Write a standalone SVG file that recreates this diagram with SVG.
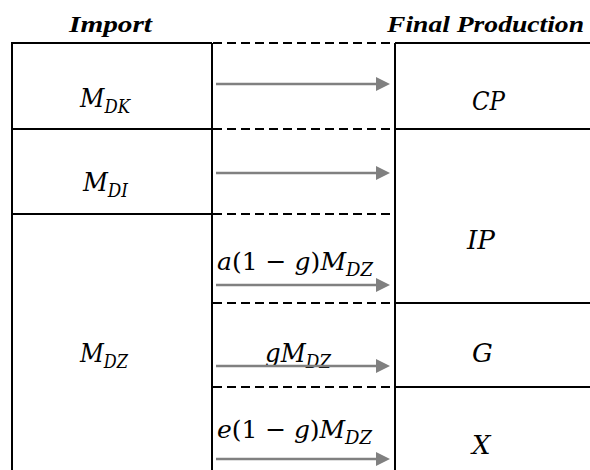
<svg xmlns="http://www.w3.org/2000/svg" width="590" height="470" viewBox="0 0 590 470">
<defs>
<marker id="ah" markerUnits="userSpaceOnUse" markerWidth="14" markerHeight="14" refX="0" refY="7" orient="auto">
<path d="M0,0 L14,7 L0,14 z" fill="#808080"/>
</marker>
<style>
.ln{stroke:#000;stroke-width:2;fill:none}
.dash{stroke:#000;stroke-width:2;stroke-dasharray:9 5;fill:none}
.arr{stroke:#808080;stroke-width:2.5;fill:none;marker-end:url(#ah)}
.hd{font-family:"Liberation Serif","DejaVu Serif",serif;font-weight:bold;font-style:italic;font-size:24px;fill:#000}
.m{font-family:"DejaVu Serif","Liberation Serif",serif;font-style:italic;font-size:26px;fill:#000}
.f{font-size:25px}
.up{font-style:normal}
.sub{font-size:18px}
</style>
</defs>
<rect width="590" height="470" fill="#fff"/>
<g id="headers">
<text class="hd" x="69" y="32" textLength="83" lengthAdjust="spacingAndGlyphs">Import</text>
<text class="hd" x="387" y="32" textLength="197" lengthAdjust="spacingAndGlyphs">Final Production</text>
</g>
<g id="frame">
<line class="ln" x1="12" y1="43" x2="12" y2="470"/>
<line class="ln" x1="212" y1="43" x2="212" y2="470"/>
<line class="ln" x1="395" y1="43" x2="395" y2="470"/>
</g>
<g id="import-MDK">
<line class="ln" x1="11" y1="43" x2="212" y2="43"/>
<line class="ln" x1="11" y1="129" x2="212" y2="129"/>
<text class="m" x="80" y="107" textLength="50" lengthAdjust="spacingAndGlyphs">M<tspan class="sub" dy="6">DK</tspan></text>
</g>
<g id="import-MDI">
<line class="ln" x1="11" y1="214" x2="212" y2="214"/>
<text class="m" x="83" y="191" textLength="45" lengthAdjust="spacingAndGlyphs">M<tspan class="sub" dy="6">DI</tspan></text>
</g>
<g id="import-MDZ">
<text class="m" x="80" y="362" textLength="48" lengthAdjust="spacingAndGlyphs">M<tspan class="sub" dy="6">DZ</tspan></text>
</g>
<g id="final-CP">
<line class="ln" x1="395" y1="43" x2="590" y2="43"/>
<line class="ln" x1="395" y1="129" x2="590" y2="129"/>
<text class="m" x="472" y="110" textLength="33" lengthAdjust="spacingAndGlyphs">CP</text>
</g>
<g id="final-IP">
<text class="m" x="467" y="249" textLength="28" lengthAdjust="spacingAndGlyphs">IP</text>
</g>
<g id="final-G">
<line class="ln" x1="395" y1="303" x2="590" y2="303"/>
<text class="m" x="472" y="362">G</text>
</g>
<g id="final-X">
<line class="ln" x1="395" y1="387" x2="590" y2="387"/>
<text class="m" x="472" y="454">X</text>
</g>
<g id="connectors">
<line class="dash" x1="213" y1="43" x2="395" y2="43"/>
<line class="dash" x1="213" y1="129" x2="395" y2="129"/>
<line class="dash" x1="213" y1="214" x2="395" y2="214"/>
<line class="dash" x1="213" y1="303" x2="395" y2="303"/>
<line class="dash" x1="213" y1="387" x2="395" y2="387"/>
<line class="arr" x1="216" y1="84" x2="376" y2="84"/>
<line class="arr" x1="216" y1="173" x2="376" y2="173"/>
<text class="m f" x="217" y="270" textLength="156" lengthAdjust="spacing">a<tspan class="up">(1 − </tspan>g<tspan class="up">)</tspan>M<tspan class="sub" dy="6">DZ</tspan></text>
<line class="arr" x1="216" y1="285" x2="376" y2="285"/>
<text class="m" x="265" y="362" textLength="66" lengthAdjust="spacingAndGlyphs">gM<tspan class="sub" dy="6">DZ</tspan></text>
<line class="arr" x1="216" y1="366" x2="376" y2="366"/>
<text class="m f" x="217" y="438" textLength="155" lengthAdjust="spacing">e<tspan class="up">(1 − </tspan>g<tspan class="up">)</tspan>M<tspan class="sub" dy="6">DZ</tspan></text>
<line class="arr" x1="216" y1="459" x2="376" y2="459"/>
</g>
</svg>
